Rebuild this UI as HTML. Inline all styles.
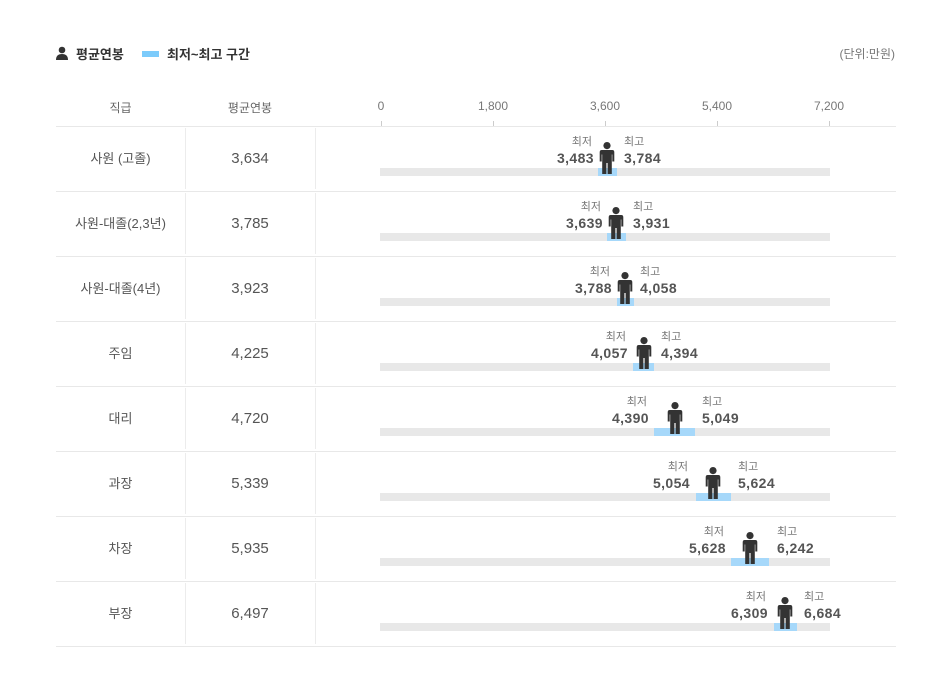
<!DOCTYPE html>
<html><head><meta charset="utf-8"><style>
*{margin:0;padding:0;box-sizing:border-box}
body{width:952px;height:696px;background:#fff;position:relative;overflow:hidden;font-family:"Liberation Sans","Noto Sans CJK KR",sans-serif;color:#555}
.a{position:absolute;white-space:nowrap}
.row{position:absolute;left:0;width:952px;height:65px}
.hl{position:absolute;left:56px;width:840px;height:1px;background:#e8e8e8}
.vl{position:absolute;top:2px;width:1px;height:61px;background:#ececec}
.c1{position:absolute;left:56px;width:129px;top:0;height:65px;line-height:65px;text-align:center;font-size:13px;color:#555}
.c2{position:absolute;left:185px;width:130px;top:0;height:65px;line-height:65px;text-align:center;font-size:15px;color:#555}
.bg{position:absolute;left:380px;width:450px;top:42px;height:8px;background:#e8e8e8}
.bl{position:absolute;top:42px;height:8px;background:#a6d8fa}
.lb{position:absolute;top:9px;font-size:11px;color:#777;line-height:14px}
.nv{position:absolute;top:24px;font-size:14px;letter-spacing:0.4px;font-weight:bold;color:#555;line-height:16px}
.r{text-align:right}
.ic{position:absolute;top:16px;width:16px;height:32px}
.tk{position:absolute;top:99px;font-size:12px;color:#777;transform:translateX(-50%)}
.tm{position:absolute;top:121px;width:1px;height:5px;background:#ccc}
</style></head><body>
<svg class="a" style="left:55px;top:46px" width="14" height="14" viewBox="0 0 14 14"><circle cx="7" cy="4" r="3.3" fill="#333"/><path d="M1 14 Q1 8 7 8 Q13 8 13 14Z" fill="#333"/></svg>
<div class="a" style="left:76px;top:44px;font-size:13px;font-weight:bold;color:#333">평균연봉</div>
<div class="a" style="left:142px;top:51px;width:17px;height:6px;background:#7ccbfb"></div>
<div class="a" style="left:167px;top:44px;font-size:13px;font-weight:bold;color:#333">최저~최고 구간</div>
<div class="a" style="right:57px;top:45px;font-size:12px;color:#777">(단위:만원)</div>
<div class="a" style="left:56px;width:129px;top:99px;text-align:center;font-size:12px;color:#666">직급</div>
<div class="a" style="left:185px;width:130px;top:99px;text-align:center;font-size:12px;color:#666">평균연봉</div>
<div class="tk" style="left:381px">0</div><div class="tm" style="left:381px"></div>
<div class="tk" style="left:493px">1,800</div><div class="tm" style="left:493px"></div>
<div class="tk" style="left:605px">3,600</div><div class="tm" style="left:605px"></div>
<div class="tk" style="left:717px">5,400</div><div class="tm" style="left:717px"></div>
<div class="tk" style="left:829px">7,200</div><div class="tm" style="left:829px"></div>
<div class="hl" style="top:126px"></div>

<svg width="0" height="0" style="position:absolute"><defs><symbol id="p" viewBox="0 0 16 32"><circle cx="8" cy="3.6" r="3.6" fill="#333"/><path d="M2.8 8 H13.2 Q15.3 8 15.3 10.2 V19.5 H13.3 V12.5 H12.8 V32 H8.6 V21 H7.4 V32 H3.2 V12.5 H2.7 V19.5 H0.7 V10.2 Q0.7 8 2.8 8Z" fill="#333"/></symbol></defs></svg>

<div class="row" style="top:126px"><div class="c1">사원 (고졸)</div><div class="c2">3,634</div><div class="vl" style="left:185px"></div><div class="vl" style="left:315px"></div>
<div class="bg"></div><div class="bl" style="left:598px;width:19px"></div>
<div class="lb r" style="right:360px">최저</div><div class="nv r" style="right:358px">3,483</div>
<div class="lb" style="left:624px">최고</div><div class="nv" style="left:624px">3,784</div>
<svg class="ic" style="left:599px"><use href="#p"/></svg><div class="hl" style="top:65px"></div></div>

<div class="row" style="top:191px"><div class="c1">사원-대졸(2,3년)</div><div class="c2">3,785</div><div class="vl" style="left:185px"></div><div class="vl" style="left:315px"></div>
<div class="bg"></div><div class="bl" style="left:607px;width:19px"></div>
<div class="lb r" style="right:351px">최저</div><div class="nv r" style="right:349px">3,639</div>
<div class="lb" style="left:633px">최고</div><div class="nv" style="left:633px">3,931</div>
<svg class="ic" style="left:608px"><use href="#p"/></svg><div class="hl" style="top:65px"></div></div>

<div class="row" style="top:256px"><div class="c1">사원-대졸(4년)</div><div class="c2">3,923</div><div class="vl" style="left:185px"></div><div class="vl" style="left:315px"></div>
<div class="bg"></div><div class="bl" style="left:617px;width:17px"></div>
<div class="lb r" style="right:342px">최저</div><div class="nv r" style="right:340px">3,788</div>
<div class="lb" style="left:640px">최고</div><div class="nv" style="left:640px">4,058</div>
<svg class="ic" style="left:617px"><use href="#p"/></svg><div class="hl" style="top:65px"></div></div>

<div class="row" style="top:321px"><div class="c1">주임</div><div class="c2">4,225</div><div class="vl" style="left:185px"></div><div class="vl" style="left:315px"></div>
<div class="bg"></div><div class="bl" style="left:633px;width:21px"></div>
<div class="lb r" style="right:326px">최저</div><div class="nv r" style="right:324px">4,057</div>
<div class="lb" style="left:661px">최고</div><div class="nv" style="left:661px">4,394</div>
<svg class="ic" style="left:636px"><use href="#p"/></svg><div class="hl" style="top:65px"></div></div>

<div class="row" style="top:386px"><div class="c1">대리</div><div class="c2">4,720</div><div class="vl" style="left:185px"></div><div class="vl" style="left:315px"></div>
<div class="bg"></div><div class="bl" style="left:654px;width:41px"></div>
<div class="lb r" style="right:305px">최저</div><div class="nv r" style="right:303px">4,390</div>
<div class="lb" style="left:702px">최고</div><div class="nv" style="left:702px">5,049</div>
<svg class="ic" style="left:667px"><use href="#p"/></svg><div class="hl" style="top:65px"></div></div>

<div class="row" style="top:451px"><div class="c1">과장</div><div class="c2">5,339</div><div class="vl" style="left:185px"></div><div class="vl" style="left:315px"></div>
<div class="bg"></div><div class="bl" style="left:696px;width:35px"></div>
<div class="lb r" style="right:264px">최저</div><div class="nv r" style="right:262px">5,054</div>
<div class="lb" style="left:738px">최고</div><div class="nv" style="left:738px">5,624</div>
<svg class="ic" style="left:705px"><use href="#p"/></svg><div class="hl" style="top:65px"></div></div>

<div class="row" style="top:516px"><div class="c1">차장</div><div class="c2">5,935</div><div class="vl" style="left:185px"></div><div class="vl" style="left:315px"></div>
<div class="bg"></div><div class="bl" style="left:731px;width:38px"></div>
<div class="lb r" style="right:228px">최저</div><div class="nv r" style="right:226px">5,628</div>
<div class="lb" style="left:777px">최고</div><div class="nv" style="left:777px">6,242</div>
<svg class="ic" style="left:742px"><use href="#p"/></svg><div class="hl" style="top:65px"></div></div>

<div class="row" style="top:581px"><div class="c1">부장</div><div class="c2">6,497</div><div class="vl" style="left:185px"></div><div class="vl" style="left:315px"></div>
<div class="bg"></div><div class="bl" style="left:774px;width:23px"></div>
<div class="lb r" style="right:186px">최저</div><div class="nv r" style="right:184px">6,309</div>
<div class="lb" style="left:804px">최고</div><div class="nv" style="left:804px">6,684</div>
<svg class="ic" style="left:777px"><use href="#p"/></svg><div class="hl" style="top:65px"></div></div>
</body></html>
